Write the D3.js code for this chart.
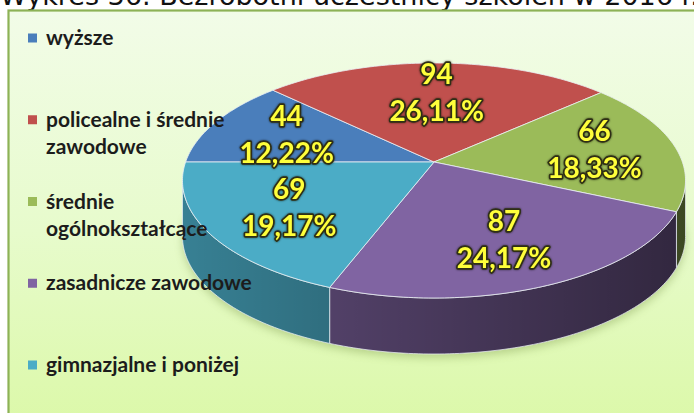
<!DOCTYPE html>
<html>
<head>
<meta charset="utf-8">
<script src="https://cdn.jsdelivr.net/npm/d3@7"></script>
<style>
  html, body { margin: 0; padding: 0; background: #ffffff; }
  svg { display: block; }
</style>
</head>
<body>
<svg id="chart" width="694" height="413"></svg>
<script>
// ---- data ----
const titleText = "Wykres 36. Bezrobotni uczestnicy szkoleń w 2016 r.";
const categories = ["wyższe", "policealne i średnie zawodowe", "średnie ogólnokształcące", "zasadnicze zawodowe", "gimnazjalne i poniżej"];
const legendLines = [["wyższe"], ["policealne i średnie", "zawodowe"], ["średnie", "ogólnokształcące"], ["zasadnicze zawodowe"], ["gimnazjalne i poniżej"]];
const values = [44, 94, 66, 87, 69];
const colors = ["#4a7ebb", "#c0504d", "#9bbb59", "#8064a2", "#4bacc6"];

// ---- setup ----
const W = 694, H = 413;
const svg = d3.select("#chart");
const defs = svg.append("defs");

const bg = defs.append("linearGradient").attr("id", "bg").attr("x1", 0).attr("y1", 0).attr("x2", 0).attr("y2", 1);
bg.append("stop").attr("offset", "0%").attr("stop-color", "#f2fce8");
bg.append("stop").attr("offset", "50%").attr("stop-color", "#e7fbcc");
bg.append("stop").attr("offset", "100%").attr("stop-color", "#daf8a4");

const sideShade = defs.append("linearGradient").attr("id", "sideShade")
  .attr("gradientUnits", "userSpaceOnUse").attr("x1", 183).attr("y1", 0).attr("x2", 690).attr("y2", 0);
sideShade.append("stop").attr("offset", "0%").attr("stop-color", "#000").attr("stop-opacity", 0.03);
sideShade.append("stop").attr("offset", "100%").attr("stop-color", "#000").attr("stop-opacity", 0.5);

const shadow = defs.append("filter").attr("id", "shadow").attr("x", "-20%").attr("y", "-20%").attr("width", "140%").attr("height", "140%");
shadow.append("feGaussianBlur").attr("stdDeviation", 4);

const glow = defs.append("filter").attr("id", "glow").attr("x", "-20%").attr("y", "-30%").attr("width", "140%").attr("height", "160%");
glow.append("feGaussianBlur").attr("in", "SourceAlpha").attr("stdDeviation", 1.2).attr("result", "b");
glow.append("feFlood").attr("flood-color", "#000").attr("flood-opacity", 0.6);
glow.append("feComposite").attr("in2", "b").attr("operator", "in").attr("result", "s");
const gm = glow.append("feMerge");
gm.append("feMergeNode").attr("in", "s");
gm.append("feMergeNode").attr("in", "SourceGraphic");

// title (cut off at the top edge, as in the source picture)
svg.append("text")
  .attr("x", 0).attr("y", 5)
  .attr("font-family", "DejaVu Sans, Verdana, sans-serif")
  .attr("font-size", 27)
  .attr("fill", "#111")
  .text(titleText);

// frame
svg.append("rect")
  .attr("x", 8.5).attr("y", 10.5).attr("width", 720).attr("height", 440)
  .attr("fill", "url(#bg)")
  .attr("stroke", "#8db256").attr("stroke-width", 2.2);

// ---- pie geometry (perspective-projected disc) ----
const cx = 434, cy = 162, A = 248.4, B = 114.6, K = 0.1574, depth = 56;
function proj(theta, r) {
  const u = r * Math.sin(theta), v = -r * Math.cos(theta);
  const w = 1 - K * v;
  return [cx + A * u / w, cy + B * v / w];
}
function arcPts(a, b, r, dy) {
  const n = Math.max(2, Math.ceil(Math.abs(b - a) / (Math.PI / 180)));
  const pts = [];
  for (let i = 0; i <= n; i++) {
    const t = a + (b - a) * i / n;
    const p = proj(t, r);
    pts.push([p[0], p[1] + (dy || 0)]);
  }
  return pts;
}
const line = d3.line();

const pie = d3.pie().sort(null).value(d => d).startAngle(1.5 * Math.PI).endAngle(3.5 * Math.PI);
const arcs = pie(values);
const total = d3.sum(values);

const visA = Math.acos(-K), visB = 2 * Math.PI - visA;

const g = svg.append("g");

// shadow under the pie
const shadowPts = arcPts(visA - 0.2, visB + 0.2, 1.0, depth + 4);
g.append("path")
  .attr("d", line(shadowPts) + "Z")
  .attr("fill", "#6d8a3a").attr("opacity", 0.35)
  .attr("filter", "url(#shadow)");

// sides
const sides = [];
arcs.forEach((d, i) => {
  [0, 2 * Math.PI].forEach(off => {
    const s = Math.max(d.startAngle, visA + off), e = Math.min(d.endAngle, visB + off);
    if (e > s) sides.push({ i, s, e });
  });
});
const sideG = g.append("g");
sides.forEach(sd => {
  const top = arcPts(sd.s, sd.e, 1, 0);
  const bot = arcPts(sd.e, sd.s, 1, depth);
  const dstr = line(top.concat(bot)) + "Z";
  sideG.append("path").attr("d", dstr)
    .attr("fill", d3.color(colors[sd.i]).darker(0.75));
  sideG.append("path").attr("d", dstr)
    .attr("fill", "url(#sideShade)")
    .attr("stroke", "rgba(235,240,245,0.75)").attr("stroke-width", 1);
});

// tops
const topG = g.append("g");
arcs.forEach((d, i) => {
  const pts = [[cx, cy]].concat(arcPts(d.startAngle, d.endAngle, 1, 0));
  topG.append("path")
    .attr("d", line(pts) + "Z")
    .attr("fill", colors[i])
    .attr("stroke", "rgba(235,240,245,0.8)").attr("stroke-width", 1)
    .attr("stroke-linejoin", "round");
});

// labels
const fmt = v => d3.format(".2f")(v).replace(".", ",") + "%";
const labG = g.append("g")
  .attr("font-family", "Lato, 'Open Sans', sans-serif")
  .attr("font-weight", "bold")
  .attr("font-size", 28)
  .attr("text-anchor", "middle")
  .attr("fill", "#ffff3a")
  .attr("stroke", "#2e2e14").attr("stroke-width", 3.4)
  .attr("stroke-linejoin", "round")
  .attr("paint-order", "stroke")
  .attr("filter", "url(#glow)");
arcs.forEach((d, i) => {
  const mid = (d.startAngle + d.endAngle) / 2;
  const p = proj(mid, 0.665);
  const t = labG.append("text").attr("x", p[0]).attr("y", p[1]);
  t.append("tspan").attr("x", p[0]).attr("dy", -9).text(values[i]);
  t.append("tspan").attr("x", p[0]).attr("dy", 37).text(fmt(values[i] / total * 100));
});

// legend
const legY = d3.scalePoint().domain(categories).range([38, 365]);
const leg = svg.append("g")
  .attr("font-family", "Lato, 'Open Sans', sans-serif")
  .attr("font-weight", "bold")
  .attr("font-size", 21)
  .attr("fill", "#1c1c1c");
categories.forEach((c, i) => {
  const y = legY(c);
  leg.append("rect").attr("x", 28).attr("y", y - 4.5).attr("width", 9).attr("height", 9).attr("fill", colors[i]);
  legendLines[i].forEach((ln, j) => {
    leg.append("text").attr("x", 46).attr("y", y + 7 + j * 27).text(ln);
  });
});
</script>
</body>
</html>
